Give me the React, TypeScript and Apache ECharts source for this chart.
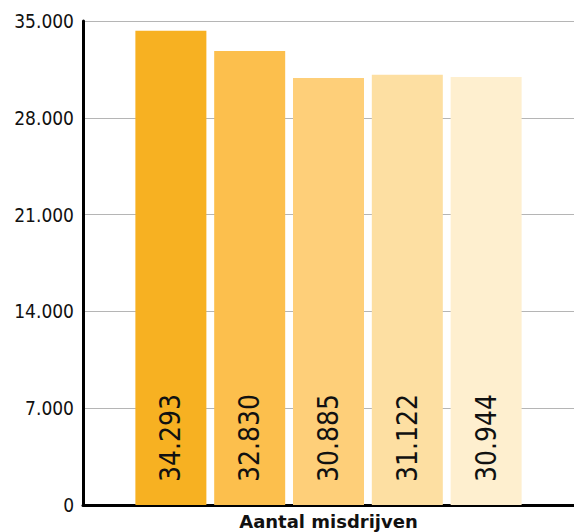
import React, { useEffect, useRef } from "react";
import * as echarts from "echarts";

const categories = ["Aantal misdrijven"];
const seriesNames = ["2012", "2013", "2014", "2015", "2016"];
const seriesValues = [34293, 32830, 30885, 31122, 30944];
const seriesColors = ["#F7B122", "#FCBF4D", "#FECF79", "#FDDFA2", "#FEEFCF"];
const yTicks = [0, 7000, 14000, 21000, 28000, 35000];

const FONT = "'DejaVu Sans Condensed', 'DejaVu Sans', sans-serif";

function fmt(v: number): string {
  const s = String(Math.round(v));
  return s.replace(/\B(?=(\d{3})+(?!\d))/g, ".");
}

export default function App() {
  const ref = useRef<HTMLDivElement>(null);
  useEffect(() => {
    if (!ref.current) return;
    const chart = echarts.init(ref.current, undefined, { renderer: "svg" });
    chart.setOption({
      animation: false,
      grid: { left: 83, right: 0, top: 21, bottom: 27, containLabel: false },
      xAxis: {
        type: "category",
        data: categories,
        axisLine: { lineStyle: { color: "#000", width: 3 } },
        axisTick: { show: false },
        axisLabel: {
          color: "#111",
          fontFamily: "'DejaVu Sans', sans-serif",
          fontSize: 18,
          fontWeight: "bold",
          margin: 7,
        },
      },
      yAxis: {
        type: "value",
        min: yTicks[0],
        max: yTicks[yTicks.length - 1],
        interval: 7000,
        axisLine: { show: true, lineStyle: { color: "#000", width: 3 } },
        axisTick: { show: false },
        splitLine: { lineStyle: { color: "#b5b5b5", width: 1 } },
        axisLabel: {
          color: "#111",
          fontFamily: FONT,
          fontSize: 19,
          margin: 9,
          formatter: (v: number) => fmt(v),
        },
      },
      series: seriesValues.map((v, i) => ({
        type: "bar",
        name: seriesNames[i],
        data: [v],
        barWidth: 71,
        barGap: "11%",
        itemStyle: { color: seriesColors[i] },
        label: {
          show: true,
          position: "insideBottom",
          rotate: 90,
          align: "left",
          verticalAlign: "middle",
          distance: 23,
          color: "#111",
          fontFamily: FONT,
          fontSize: 28,
          formatter: (p: any) => fmt(p.value),
        },
      })),
    });
    return () => chart.dispose();
  }, []);
  return (
    <div
      ref={ref}
      style={{ position: "absolute", left: 0, top: 0, width: 574, height: 532 }}
    />
  );
}
